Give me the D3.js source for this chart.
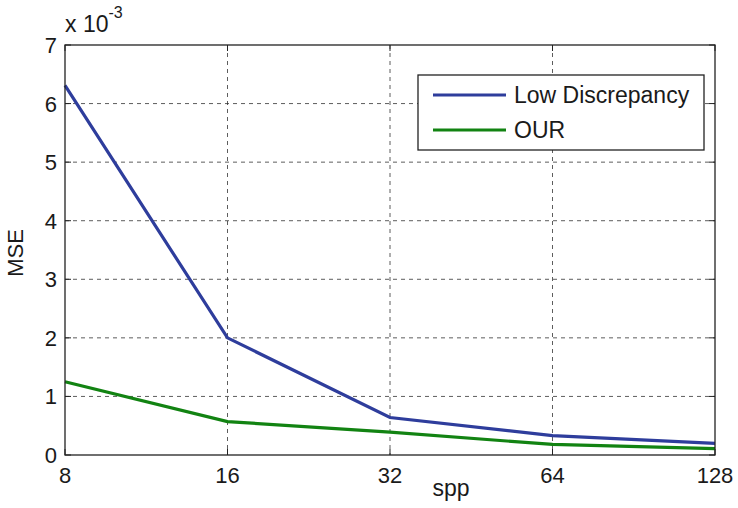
<!DOCTYPE html>
<html>
<head>
<meta charset="utf-8">
<script src="https://cdn.jsdelivr.net/npm/d3@7"></script>
<style>
  body { margin: 0; background: #fff; }
  text { font-family: "Liberation Sans", Arial, sans-serif; fill: #1a1a1a; }
</style>
</head>
<body>
<div id="chart"></div>
<script>
var spp = [8, 16, 32, 64, 128],
    lowDiscrepancy = [6.31, 2.0, 0.64, 0.33, 0.2],
    our = [1.25, 0.57, 0.39, 0.18, 0.11],
    yTicks = [0, 1, 2, 3, 4, 5, 6, 7],
    seriesNames = ["Low Discrepancy", "OUR"],
    seriesColors = ["#2e3d9c", "#128312"]

var W = 738, H = 508,
    margin = { left: 65, right: 23, top: 45, bottom: 53 },
    iw = W - margin.left - margin.right,
    ih = H - margin.top - margin.bottom

var svg = d3.select("#chart").append("svg")
    .attr("width", W)
    .attr("height", H)

var g = svg.append("g")
    .attr("transform", "translate(" + margin.left + "," + margin.top + ")")

var x = d3.scaleLog().base(2).domain([8, 128]).range([0, iw]),
    y = d3.scaleLinear().domain([0, 7]).range([ih, 0])

// grid
g.selectAll("line.vgrid")
    .data(spp.slice(1, -1))
    .join("line")
    .attr("class", "vgrid")
    .attr("x1", d => x(d)).attr("x2", d => x(d))
    .attr("y1", 0).attr("y2", ih)
    .style("stroke", "#333")
    .style("stroke-width", 0.8)
    .style("stroke-dasharray", "4,4")

g.selectAll("line.hgrid")
    .data(yTicks.slice(1, -1))
    .join("line")
    .attr("class", "hgrid")
    .attr("x1", 0).attr("x2", iw)
    .attr("y1", d => y(d)).attr("y2", d => y(d))
    .style("stroke", "#333")
    .style("stroke-width", 0.8)
    .style("stroke-dasharray", "4,4")

// inner tick marks on all four sides
var tl = 6
g.selectAll("line.xt")
    .data(spp)
    .join("line")
    .attr("x1", d => x(d)).attr("x2", d => x(d))
    .attr("y1", ih).attr("y2", ih - tl)
    .style("stroke", "#222")
g.selectAll("line.xt2")
    .data(spp)
    .join("line")
    .attr("x1", d => x(d)).attr("x2", d => x(d))
    .attr("y1", 0).attr("y2", tl)
    .style("stroke", "#222")
g.selectAll("line.yt")
    .data(yTicks)
    .join("line")
    .attr("x1", 0).attr("x2", tl)
    .attr("y1", d => y(d)).attr("y2", d => y(d))
    .style("stroke", "#222")
g.selectAll("line.yt2")
    .data(yTicks)
    .join("line")
    .attr("x1", iw).attr("x2", iw - tl)
    .attr("y1", d => y(d)).attr("y2", d => y(d))
    .style("stroke", "#222")

// lines
var line = d3.line()
    .x((d, i) => x(spp[i]))
    .y(d => y(d))

;[lowDiscrepancy, our].forEach(function(s, i) {
    g.append("path")
        .datum(s)
        .attr("d", line)
        .style("fill", "none")
        .style("stroke", seriesColors[i])
        .style("stroke-width", 3.2)
})

// box
g.append("rect")
    .attr("width", iw).attr("height", ih)
    .style("fill", "none")
    .style("stroke", "#222")
    .style("stroke-width", 1.3)

// tick labels
g.selectAll("text.xl")
    .data(spp)
    .join("text")
    .attr("x", d => x(d))
    .attr("y", ih + 28)
    .attr("text-anchor", "middle")
    .style("font-size", "22px")
    .text(d => d)

g.selectAll("text.yl")
    .data(yTicks)
    .join("text")
    .attr("x", -8)
    .attr("y", d => y(d) + 8)
    .attr("text-anchor", "end")
    .style("font-size", "22px")
    .text(d => d)

// exponent
var ex = g.append("text")
    .attr("x", 0)
    .attr("y", -13)
    .style("font-size", "23px")
ex.append("tspan").text("x 10")
ex.append("tspan").attr("dy", -14).style("font-size", "16px").text("-3")

// axis titles
g.append("text")
    .attr("x", iw / 2 + 61)
    .attr("y", ih + 41)
    .attr("text-anchor", "middle")
    .style("font-size", "23px")
    .text("spp")

g.append("text")
    .attr("transform", "translate(-42," + (ih / 2 + 3) + ") rotate(-90)")
    .attr("text-anchor", "middle")
    .style("font-size", "22px")
    .text("MSE")

// legend
var lg = g.append("g")
    .attr("transform", "translate(" + (418 - margin.left) + "," + (75 - margin.top) + ")")
lg.append("rect")
    .attr("width", 286).attr("height", 75)
    .style("fill", "#fff")
    .style("stroke", "#222")
    .style("stroke-width", 1.3)
seriesNames.forEach(function(name, i) {
    var yy = 20 + i * 35
    lg.append("line")
        .attr("x1", 15).attr("x2", 88)
        .attr("y1", yy).attr("y2", yy)
        .style("stroke", seriesColors[i])
        .style("stroke-width", 3.2)
    lg.append("text")
        .attr("x", 96)
        .attr("y", yy + 8)
        .style("font-size", "23px")
        .text(name)
})
</script>
</body>
</html>
